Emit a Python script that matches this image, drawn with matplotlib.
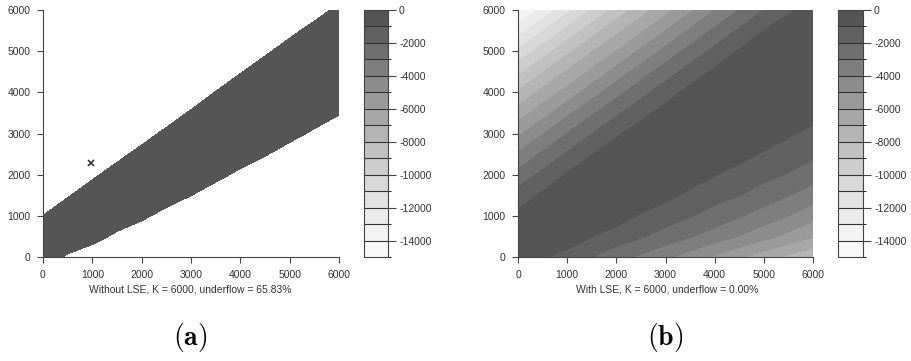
import numpy as np
import matplotlib
matplotlib.use('Agg')
import matplotlib.pyplot as plt
import matplotlib.cm as cm
from matplotlib.colors import ListedColormap, BoundaryNorm

plt.rcParams['axes.unicode_minus'] = False
plt.rcParams['mathtext.fontset'] = 'cm'
plt.rcParams['font.family'] = ['Liberation Sans', 'DejaVu Sans']

# grid of the log-value surface (rows: y = 6000 down to 0)
x_vals = [0, 500, 1000, 1500, 2000, 2500, 3000, 3500, 4000, 4500, 5000, 5500, 6000]
y_vals = [6000, 5500, 5000, 4500, 4000, 3500, 3000, 2500, 2000, 1500, 1000, 500, 0]
log_vals = [
    [-14000, -12700, -11280, -9920, -8640, -7460, -6350, -5210, -4030, -2960, -2000, -1150, -510],
    [-12480, -11030, -9700, -8440, -7260, -6170, -5010, -3850, -2810, -1860, -1010, -410, 0],
    [-10810, -9480, -8250, -7070, -6000, -4820, -3680, -2650, -1720, -910, -310, 0, 0],
    [-9270, -8060, -6890, -5810, -4630, -3500, -2490, -1580, -810, -210, 0, 0, 0],
    [-7870, -6720, -5620, -4440, -3330, -2340, -1450, -710, -120, 0, 0, 0, -160],
    [-6540, -5420, -4240, -3160, -2180, -1310, -620, -20, 0, 0, 0, -310, -690],
    [-5230, -4050, -2990, -2020, -1170, -520, 0, 0, 0, -60, -480, -880, -1230],
    [-3870, -2830, -1880, -1030, -420, 0, 0, 0, -250, -680, -1100, -1460, -1790],
    [-2670, -1740, -920, -330, 0, 0, 0, -470, -960, -1340, -1700, -2060, -2560],
    [-1600, -830, -230, 0, 0, -220, -730, -1230, -1610, -1980, -2460, -2960, -3510],
    [-730, -130, 0, 0, -520, -1110, -1530, -1920, -2410, -2910, -3450, -4000, -4640],
    [-30, 0, -300, -990, -1450, -1900, -2400, -2920, -3480, -4040, -4640, -5280, -5960],
    [-160, -880, -1450, -2000, -2590, -3190, -3810, -4460, -5140, -5850, -6570, -7240, -7800],
]
underflow_limit = -745
marker_pt = (970, 2290)
captions = ['Without LSE, K = 6000, underflow = 65.83%', 'With LSE, K = 6000, underflow = 0.00%']
panel_tags = [r'$\mathbf{(a)}$', r'$\mathbf{(b)}$']

levels = np.arange(-15000, 1, 1000)
cols_top = ['#555555', '#616161', '#6f6f6f', '#7e7e7e', '#8c8c8c', '#9a9a9a', '#a7a7a7', '#b4b4b4',
            '#c1c1c1', '#cdcdcd', '#d8d8d8', '#e2e2e2', '#ebebeb', '#f3f3f3', '#f9f9f9']
cmap = ListedColormap(cols_top[::-1])
norm = BoundaryNorm(levels, cmap.N)

Z = np.array(log_vals)

fig = plt.figure(figsize=(9.12, 3.61), dpi=100)
W, H = 912, 361
axa = fig.add_axes([43 / W, 104 / H, 296 / W, 247 / H])
axb = fig.add_axes([518 / W, 104 / H, 295 / W, 247 / H])
caxa = fig.add_axes([364 / W, 104 / H, 24 / W, 247 / H])
caxb = fig.add_axes([838 / W, 104 / H, 25 / W, 247 / H])

# without LSE: only the cells that did not underflow get a value
axa.contourf(x_vals, y_vals, Z, levels=[underflow_limit, 1], colors=['#555555'])
axa.plot([marker_pt[0]], [marker_pt[1]], marker='x', color='#333333', markersize=5, mew=1.2)
axb.contourf(x_vals, y_vals, Z, levels=levels, cmap=cmap, norm=norm)

for ax in (axa, axb):
    ax.set_xlim(0, 6000)
    ax.set_ylim(0, 6000)
    ax.set_xticks(range(0, 6001, 1000))
    ax.set_yticks(range(0, 6001, 1000))
    for s in ('top', 'right'):
        ax.spines[s].set_visible(False)
    for s in ('left', 'bottom'):
        ax.spines[s].set_color('#444444')
        ax.spines[s].set_linewidth(0.8)
    ax.tick_params(length=4, width=0.8, colors='#444444', labelsize=7.5, labelcolor='#333333', pad=5)

sm = cm.ScalarMappable(norm=norm, cmap=cmap)
for cax in (caxa, caxb):
    cb = fig.colorbar(sm, cax=cax, drawedges=True, ticks=np.arange(0, -15000, -2000))
    cb.outline.set_edgecolor('#444444')
    cb.outline.set_linewidth(0.8)
    cb.dividers.set_color('#333333')
    cb.dividers.set_linewidth(0.8)
    cax.tick_params(length=6, width=0.8, colors='#444444', labelsize=7.5, labelcolor='#333333', pad=2)

cap = dict(ha='center', va='center', fontsize=7.5, color='#333333')
fig.text(190 / W, 1 - 289 / H, captions[0], **cap)
fig.text(667 / W, 1 - 289 / H, captions[1], **cap)
fig.text(190 / W, 1 - 337 / H, panel_tags[0], fontsize=20, ha='center', va='center')
fig.text(665 / W, 1 - 337 / H, panel_tags[1], fontsize=20, ha='center', va='center')

fig.savefig('out.png', dpi=100)
